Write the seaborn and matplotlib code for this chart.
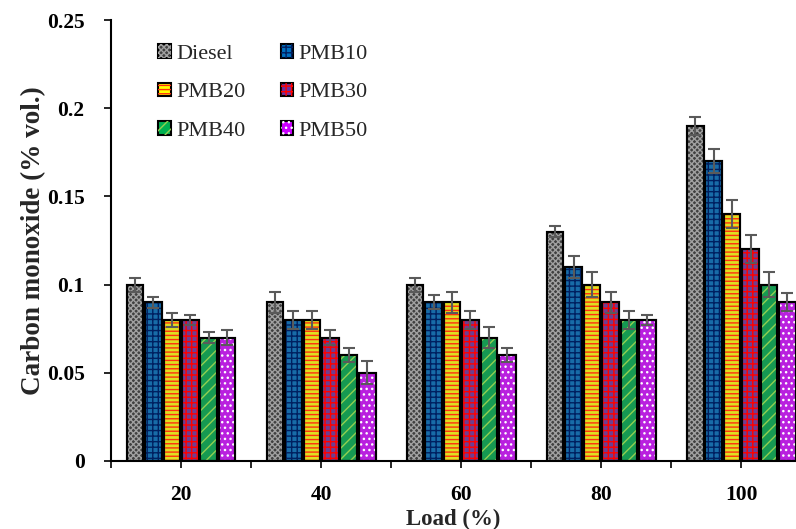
import pandas as pd
import numpy as np
import matplotlib
matplotlib.use("Agg")
import matplotlib.pyplot as plt
import seaborn as sns
from matplotlib.patches import Rectangle
from matplotlib.legend_handler import HandlerTuple
from matplotlib.ticker import FormatStrFormatter, FixedLocator

# data
loads = ["20", "40", "60", "80", "100"]
fuels = ["Diesel", "PMB10", "PMB20", "PMB30", "PMB40", "PMB50"]

diesel = [0.10, 0.09, 0.10, 0.13, 0.19]
pmb10 = [0.09, 0.08, 0.09, 0.11, 0.17]
pmb20 = [0.08, 0.08, 0.09, 0.10, 0.14]
pmb30 = [0.08, 0.07, 0.08, 0.09, 0.12]
pmb40 = [0.07, 0.06, 0.07, 0.08, 0.10]
pmb50 = [0.07, 0.05, 0.06, 0.08, 0.09]

err_diesel = [0.004, 0.006, 0.004, 0.003, 0.005]
err_pmb10 = [0.003, 0.005, 0.004, 0.006, 0.007]
err_pmb20 = [0.004, 0.005, 0.006, 0.007, 0.008]
err_pmb30 = [0.003, 0.004, 0.005, 0.006, 0.008]
err_pmb40 = [0.003, 0.004, 0.006, 0.005, 0.007]
err_pmb50 = [0.004, 0.0065, 0.004, 0.003, 0.005]

values = [diesel, pmb10, pmb20, pmb30, pmb40, pmb50]
errors = [err_diesel, err_pmb10, err_pmb20, err_pmb30, err_pmb40, err_pmb50]

# styling per fuel: face colour, hatch, hatch colour
face_colors = ["#404040", "#0070C0", "#FFFF00", "#7030A0", "#00B050", "#CC00FF"]
hatches = ["xxxxxx", "+++", "----", "+++", "///", "..."]
hatch_colors = ["#A0A0A0", "#002060", "#FF3010", "#FF0000", "#92D050", "#FFFFFF"]

df = pd.DataFrame(
    [(ld, f, v) for f, vals in zip(fuels, values) for ld, v in zip(loads, vals)],
    columns=["Load", "Fuel", "CO"],
)

sns.set_style("ticks")
plt.rcParams["font.family"] = ["Liberation Serif", "DejaVu Serif"]
plt.rcParams["hatch.linewidth"] = 1.0

fig = plt.figure(figsize=(7.96, 5.29), dpi=100)
ax = fig.add_axes([111 / 796, 1 - 461 / 529, (796 - 111) / 796, 441 / 529])

sns.barplot(
    data=df, x="Load", y="CO", hue="Fuel", order=loads, hue_order=fuels,
    palette=face_colors, errorbar=None, width=0.79, gap=0.1,
    edgecolor="black", linewidth=1.5, legend=False, ax=ax,
)

handles = []
for cont, hatch, hcol, errs, fc in zip(ax.containers, hatches, hatch_colors, errors, face_colors):
    xs, ys = [], []
    for bar in cont.patches:
        x, w, h = bar.get_x(), bar.get_width(), bar.get_height()
        ax.add_patch(Rectangle((x, 0), w, h, fill=False, hatch=hatch,
                               edgecolor=hcol, linewidth=0, zorder=bar.get_zorder() + 0.1))
        ax.add_patch(Rectangle((x, 0), w, h, fill=False, edgecolor="black",
                               linewidth=1.5, zorder=bar.get_zorder() + 0.2))
        xs.append(x + w / 2)
        ys.append(h)
    ax.errorbar(xs, ys, yerr=errs, fmt="none", ecolor="#5a5a5a",
                elinewidth=1.5, capsize=4, capthick=1.5, zorder=5)
    face = Rectangle((0, 0), 1, 1, facecolor=fc, edgecolor="black", linewidth=1.5)
    hatch_p = Rectangle((0, 0), 1, 1, fill=False, hatch=hatch, edgecolor=hcol, linewidth=0)
    handles.append((face, hatch_p))

ax.set_xlim(-0.5, 4.39)
ax.set_ylim(0, 0.25)
ax.set_yticks(np.arange(0, 0.2501, 0.05))
ax.yaxis.set_major_formatter(FormatStrFormatter("%g"))
ax.set_xticks(range(len(loads)))
ax.set_xticklabels(loads)
ax.xaxis.set_minor_locator(FixedLocator([-0.5, 0.5, 1.5, 2.5, 3.5]))

sns.despine(ax=ax)
for s in ["left", "bottom"]:
    ax.spines[s].set_linewidth(1.5)
    ax.spines[s].set_color("black")
ax.tick_params(axis="both", which="both", direction="out", length=5, width=1.2,
               colors="black", labelsize=15.5)
ax.tick_params(axis="x", pad=12)
ax.tick_params(axis="y", pad=14)
for lab in ax.get_xticklabels() + ax.get_yticklabels():
    lab.set_fontweight("bold")

ax.set_xlabel("Load (%)", fontsize=16.5, fontweight="bold", labelpad=3)
ax.set_ylabel("Carbon monoxide (% vol.)", fontsize=19.5, fontweight="bold")
ax.yaxis.set_label_coords(-0.094, 0.5)

# legend fills rows first in the reference: reorder for column-major filling
order = [0, 2, 4, 1, 3, 5]
ax.legend([handles[i] for i in order], [fuels[i] for i in order],
          handler_map={tuple: HandlerTuple(ndivide=1)}, ncol=2, frameon=False,
          loc="upper left", bbox_to_anchor=(0.04, 0.99), fontsize=16,
          handlelength=0.55, handleheight=0.55, handletextpad=0.25,
          labelspacing=0.85, columnspacing=1.6)

fig.savefig("out.png", dpi=100)
